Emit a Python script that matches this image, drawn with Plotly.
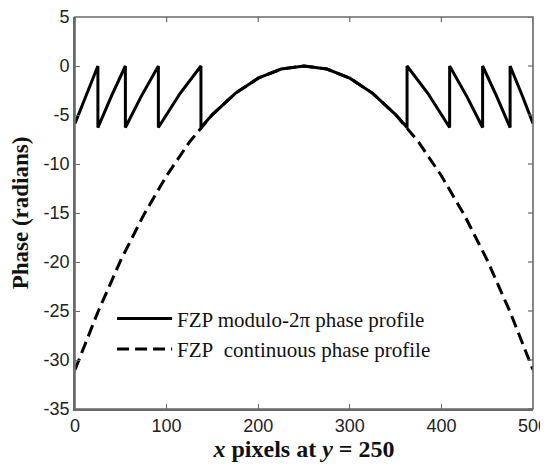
import plotly.graph_objects as go

# Continuous FZP phase profile (radians) vs x pixel, read every 25 px
x_cont = [0, 25, 50, 75, 100, 125, 150, 175, 200, 225, 250,
          275, 300, 325, 350, 375, 400, 425, 450, 475, 500]
phase_cont = [-31.0, -25.1, -19.8, -15.2, -11.2, -7.75, -4.96, -2.79, -1.24, -0.31, 0.0,
              -0.31, -1.24, -2.79, -4.96, -7.75, -11.2, -15.2, -19.8, -25.1, -31.0]

# Modulo-2pi wrapped phase profile (jumps listed as repeated x)
x_wrap = [0, 12, 25, 25, 40, 55, 55, 72, 91, 91, 115, 137.5, 137.5,
          150, 175, 200, 225, 250, 275, 300, 325, 350, 362.5,
          362.5, 385, 409, 409, 428, 445, 445, 460, 475, 475, 488, 500]
phase_wrap = [-5.87, -2.96, 0.0, -6.28, -3.02, 0.0, -6.28, -3.15, 0.0, -6.28, -2.76, 0.0, -6.28,
              -4.96, -2.79, -1.24, -0.31, 0.0, -0.31, -1.24, -2.79, -4.96, -6.28,
              0.0, -2.76, -6.28, 0.0, -3.15, -6.28, 0.0, -3.02, -6.28, 0.0, -2.96, -5.87]

x_range = [0, 500]
y_range = [-35, 5]
x_ticks = [0, 100, 200, 300, 400, 500]
x_tick_labels = ["0", "100", "200", "300", "400", "500"]
y_ticks = [5, 0, -5, -10, -15, -20, -25, -30, -35]
y_tick_labels = ["5", "0", "-5", "-10", "-15", "-20", "-25", "-30", "-35"]

serif = "Liberation Serif, Times New Roman, serif"
sans = "Liberation Sans, Arial, sans-serif"
axis_grey = "#6a6a6a"
tick_len = 5

fig = go.Figure()
fig.add_trace(go.Scatter(
    x=x_cont, y=phase_cont, mode="lines",
    name="FZP\u00a0 continuous phase profile",
    line=dict(color="black", width=3, dash="12px,6px"),
    legendrank=2,
))
fig.add_trace(go.Scatter(
    x=x_wrap, y=phase_wrap, mode="lines",
    name="FZP modulo-2\u03c0 phase profile",
    line=dict(color="black", width=3),
    legendrank=1,
))

axis_common = dict(
    showline=True, linecolor=axis_grey, linewidth=1.6, mirror=False,
    ticks="inside", ticklen=tick_len, tickcolor=axis_grey, tickwidth=1.2,
    showgrid=False, zeroline=False, automargin=False,
    ticklabeloverflow="allow",
    tickfont=dict(family=sans, size=18, color="#222222"),
)

# frame on the top and right sides, with mirrored inside ticks
shapes = [dict(type="rect", xref="paper", yref="paper", x0=0, x1=1, y0=0, y1=1,
               line=dict(color=axis_grey, width=1.6), layer="above")]
for t in x_ticks:
    shapes.append(dict(type="line", xref="x", yref="paper", ysizemode="pixel",
                       yanchor=1, x0=t, x1=t, y0=0, y1=-tick_len,
                       line=dict(color=axis_grey, width=1.2), layer="above"))
for t in y_ticks:
    shapes.append(dict(type="line", yref="y", xref="paper", xsizemode="pixel",
                       xanchor=1, y0=t, y1=t, x0=0, x1=-tick_len,
                       line=dict(color=axis_grey, width=1.2), layer="above"))

# the page body adds an 8 px offset, so the figure is 8 px smaller with 8 px less margin
fig.update_layout(
    width=540, height=458,
    margin=dict(l=67, r=15, t=9, b=57),
    paper_bgcolor="white", plot_bgcolor="white",
    showlegend=True,
    shapes=shapes,
    legend=dict(
        x=0.081, y=0.282, xanchor="left", yanchor="top",
        bgcolor="rgba(0,0,0,0)", borderwidth=0,
        font=dict(family=serif, size=21, color="#111111"),
        itemwidth=55, tracegroupgap=0,
    ),
    xaxis=dict(
        range=x_range, tickvals=x_ticks, ticktext=x_tick_labels,
        title=dict(text="<b><i>x</i> pixels at <i>y</i> = 250</b>",
                   font=dict(family=serif, size=24, color="#111111"), standoff=1),
        **axis_common,
    ),
    yaxis=dict(
        range=y_range, tickvals=y_ticks, ticktext=y_tick_labels,
        title=dict(text="<b>Phase (radians)</b>",
                   font=dict(family=serif, size=23, color="#111111"), standoff=10),
        **axis_common,
    ),
)

fig.write_html("out.html")
